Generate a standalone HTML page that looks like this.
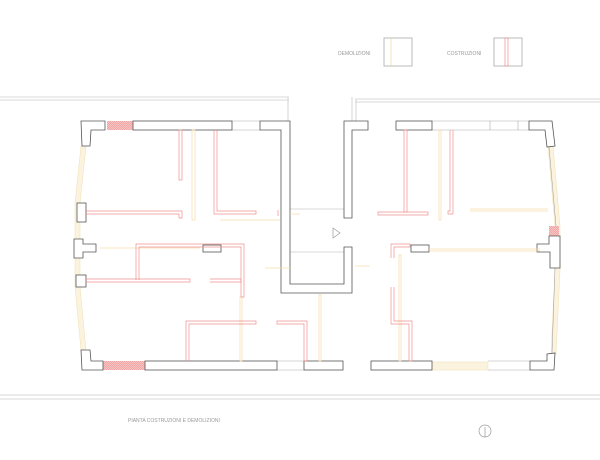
<!DOCTYPE html>
<html><head><meta charset="utf-8"><style>
html,body{margin:0;padding:0;background:#fff;width:600px;height:460px;overflow:hidden}
svg{display:block}
text{font-family:"Liberation Sans",sans-serif;fill:#999}
</style></head><body>
<svg width="600" height="460" viewBox="0 0 600 460" xmlns="http://www.w3.org/2000/svg">
<defs>
<pattern id="h" width="2" height="2" patternUnits="userSpaceOnUse"><rect width="2" height="2" fill="#f7c4c4"/><path d="M0 2L2 0" stroke="#e88" stroke-width="0.5"/></pattern>
</defs>
<text x="338" y="55" font-size="5">DEMOLIZIONI</text>
<rect x="384" y="38" width="28" height="28" fill="none" stroke="#aaa" stroke-width="0.8"/>
<line x1="391" y1="38" x2="391" y2="66" stroke="#f5d9a8" stroke-width="0.8"/>
<text x="447" y="55" font-size="5">COSTRUZIONI</text>
<rect x="494" y="38" width="28" height="28" fill="none" stroke="#aaa" stroke-width="0.8"/>
<rect x="505" y="38" width="3" height="28" fill="none" stroke="#f09090" stroke-width="0.7"/>
<g stroke="#ccc" stroke-width="0.8" fill="none">
<line x1="0" y1="97" x2="289" y2="97"/><line x1="0" y1="100" x2="289" y2="100"/>
<line x1="355" y1="99" x2="600" y2="99"/><line x1="355" y1="102" x2="600" y2="102"/>
<line x1="288" y1="97" x2="288" y2="121"/><line x1="352" y1="97" x2="352" y2="121"/><line x1="356" y1="99" x2="356" y2="121"/>
<line x1="0" y1="395" x2="600" y2="395"/><line x1="0" y1="399" x2="600" y2="399"/>
<line x1="290" y1="209" x2="344" y2="209"/><line x1="290" y1="252" x2="344" y2="252"/>
</g>
<path d="M86 146 L80 203 L80 287 L86 350 L81 350 L75 287 L75 203 L81 146Z" fill="#fcf3de" stroke="#eedfb5" stroke-width="0.5"/>
<path d="M548 146 L555 226 L555 270 L551 354 L556 354 L560 270 L560 226 L553 146Z" fill="#fcf3de" stroke="#eedfb5" stroke-width="0.5"/>
<line x1="549" y1="147" x2="556" y2="226" stroke="#999" stroke-width="0.5"/>
<line x1="555" y1="268" x2="552" y2="353" stroke="#999" stroke-width="0.5"/>
<rect x="432" y="362" width="56" height="8" fill="#fcf3de" stroke="#eedfb5" stroke-width="0.5"/>
<g stroke="#aaa" stroke-width="0.6">
<line x1="232" y1="121" x2="260" y2="121"/><line x1="232" y1="130" x2="260" y2="130"/>
<line x1="432" y1="121" x2="529" y2="121"/><line x1="432" y1="130" x2="529" y2="130"/>
<line x1="277" y1="361" x2="304" y2="361"/><line x1="277" y1="370" x2="304" y2="370"/>
<line x1="488" y1="361" x2="530" y2="361"/><line x1="488" y1="370" x2="530" y2="370"/>
<line x1="490" y1="121" x2="490" y2="130"/><line x1="518" y1="121" x2="518" y2="130"/>
</g>
<rect x="107" y="121" width="26" height="9" fill="url(#h)"/>
<rect x="103" y="361" width="42" height="9" fill="url(#h)"/>
<rect x="549" y="226" width="10" height="10" fill="url(#h)"/>
<g fill="#fff" stroke="#555" stroke-width="0.8">
<path d="M81 121 L105 121 L105 130 L91 130 L90 146 L82 146Z"/>
<rect x="133" y="121" width="99" height="9"/>
<path d="M260 121 L290 121 L290 284 L344 284 L344 247 L352 247 L352 293 L281 293 L281 130 L260 130Z"/>
<path d="M344 121 L368 121 L368 130 L352 130 L352 218 L344 218Z"/>
<rect x="396" y="121" width="36" height="9"/>
<path d="M529 121 L552 121 L555 146 L547 147 L545 130 L529 130Z"/>
<rect x="77" y="203" width="9" height="19"/>
<path d="M74 239 L83 239 L83 244 L96 244 L96 252 L83 252 L83 258 L74 258Z"/>
<rect x="76" y="275" width="10" height="12"/>
<path d="M81 350 L90 350 L91 361 L103 361 L103 370 L82 370Z"/>
<rect x="145" y="361" width="132" height="9"/>
<rect x="304" y="361" width="39" height="9"/>
<rect x="371" y="361" width="61" height="9"/>
<path d="M530 361 L547 361 L547 354 L555 353 L554 370 L530 370Z"/>
<path d="M549 236 L560 236 L560 268 L550 268 L550 252 L537 252 L537 244 L549 244Z"/>
<rect x="203" y="245" width="18" height="7"/>
<rect x="411" y="245" width="18" height="7"/>
</g>
<polygon points="333,228 340,233 333,238" fill="none" stroke="#999" stroke-width="0.7"/>
<g stroke="#f5dcaa" stroke-width="0.7" fill="none">
<rect x="192" y="130" width="3" height="90"/>
<line x1="220" y1="220" x2="280" y2="220"/>
<line x1="100" y1="248" x2="200" y2="248"/>
<rect x="240" y="297" width="2" height="64"/>
<rect x="319" y="295" width="2" height="66"/>
<line x1="265" y1="268" x2="290" y2="268"/>
<rect x="439" y="130" width="2" height="90"/>
<line x1="470" y1="209" x2="548" y2="209"/><line x1="470" y1="211" x2="548" y2="211"/>
<line x1="429" y1="249" x2="540" y2="249"/><line x1="429" y1="251" x2="540" y2="251"/>
<rect x="399" y="255" width="2" height="106"/>
<line x1="355" y1="266" x2="370" y2="266"/>
<line x1="290" y1="214" x2="300" y2="214"/>
</g>
<g stroke="#f09090" stroke-width="0.7" fill="none">
<rect x="179" y="130" width="3" height="50"/>
<path d="M86 211 H182 V218 H179 V214 H86"/>
<path d="M214 130 V214 H256 V211 H217 V130"/>
<line x1="278" y1="210" x2="278" y2="216"/>
<path d="M136 280 V244 H244 V297 H241 V247 H139 V280"/>
<path d="M86 279 H190 V282 H86"/>
<path d="M210 279 H241 V282 H210"/>
<path d="M186 361 V321 H256 V324 H189 V361"/>
<path d="M277 321 H307 V361 H304 V324 H277Z"/>
<rect x="404" y="130" width="3" height="82"/>
<path d="M378 212 H428 V215 H378Z"/>
<path d="M453 130 V214 H448 V211 H450 V130"/>
<path d="M391 258 V244 H410 V247 H394 V258"/>
<path d="M391 287 V324 H409 V361 H412 V321 H394 V287"/>
</g>
<text x="128" y="422" font-size="5">PIANTA COSTRUZIONI E DEMOLIZIONI</text>
<circle cx="485" cy="431" r="6" fill="none" stroke="#999" stroke-width="0.7"/>
<line x1="485" y1="427" x2="485" y2="437" stroke="#999" stroke-width="0.7"/>
</svg>
</body></html>
